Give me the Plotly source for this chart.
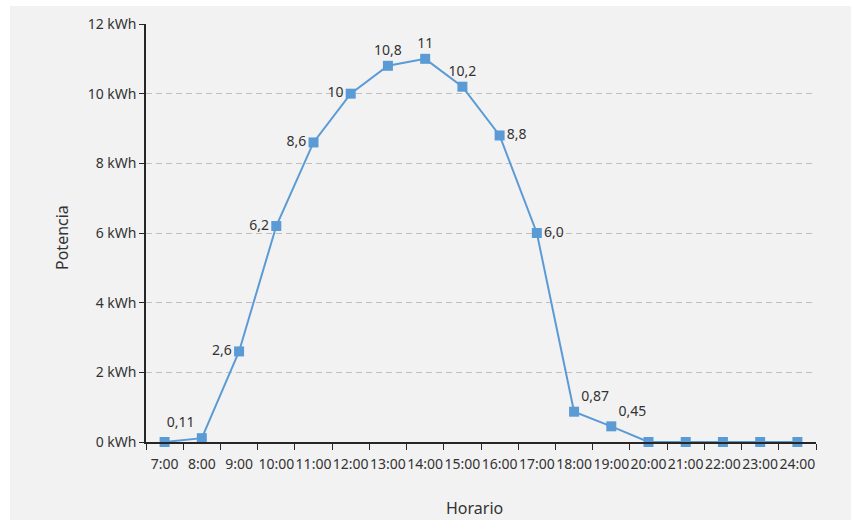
import plotly.graph_objects as go

horas = ["7:00", "8:00", "9:00", "10:00", "11:00", "12:00", "13:00", "14:00", "15:00",
         "16:00", "17:00", "18:00", "19:00", "20:00", "21:00", "22:00", "23:00", "24:00"]
potencia = [0, 0.11, 2.6, 6.2, 8.6, 10, 10.8, 11, 10.2, 8.8, 6.0, 0.87, 0.45, 0, 0, 0, 0, 0]
etiquetas = ["", "0,11", "2,6", "6,2", "8,6", "10", "10,8", "11", "10,2", "8,8", "6,0",
             "0,87", "0,45", "", "", "", "", ""]
posiciones = ["top center", "top left", "middle left", "middle left", "middle left",
              "middle left", "top center", "top center", "top center", "middle right",
              "middle right", "top right", "top right", "top center", "top center",
              "top center", "top center", "top center"]
y_ticks = [0, 2, 4, 6, 8, 10, 12]
y_ticktext = [f"{v} kWh" for v in y_ticks]

FONT = "Noto Sans, Open Sans, sans-serif"
TXT = "#333333"
BLUE = "#5b9bd5"
BG = "#f2f2f2"

fig = go.Figure()
fig.add_trace(go.Scatter(
    x=horas, y=potencia, mode="lines+markers+text",
    line=dict(color=BLUE, width=2),
    marker=dict(symbol="square", size=10, color=BLUE),
    text=etiquetas, textposition=posiciones,
    textfont=dict(family=FONT, size=14, color=TXT),
    cliponaxis=False, showlegend=False, hoverinfo="skip",
))

L, R, T, B = 146, 35, 24, 78
W, H = 851, 520
pw, ph = W - L - R, H - T - B

fig.update_layout(
    width=W, height=H,
    margin=dict(l=L, r=R, t=T, b=B, pad=0, autoexpand=False),
    paper_bgcolor="white", plot_bgcolor=BG,
    font=dict(family=FONT, size=14, color=TXT),
    shapes=[dict(type="rect", xref="paper", yref="paper",
                 x0=(10 - L) / pw, x1=(W - L) / pw + 0.01,
                 y0=-(B + 5) / ph, y1=(ph + T - 6) / ph,
                 fillcolor=BG, line=dict(width=0), layer="below")],
    annotations=[
        dict(text="Horario", xref="paper", yref="paper", x=(474 - L) / pw, y=-(508 - (H - B)) / ph,
             xanchor="center", yanchor="middle", showarrow=False,
             font=dict(family=FONT, size=16, color=TXT)),
        dict(text="Potencia", xref="paper", yref="paper", x=(62 - L) / pw, y=((H - B) - 238) / ph,
             xanchor="center", yanchor="middle", textangle=-90, showarrow=False,
             font=dict(family=FONT, size=16, color=TXT)),
    ],
)
fig.update_xaxes(
    type="category", range=[-0.5, len(horas) - 0.5], tickson="boundaries",
    ticks="outside", ticklen=6, ticklabelstandoff=8,
    tickcolor="#262626", showline=True, linecolor="#262626", linewidth=1.5,
    showgrid=False, tickangle=0, tickfont=dict(size=14), automargin=False,
)
fig.update_yaxes(
    range=[0, 12], tickmode="array", tickvals=y_ticks, ticktext=y_ticktext,
    ticks="outside", ticklen=5,
    tickcolor="#262626", showline=True, linecolor="#262626", linewidth=1.5,
    showgrid=True, gridcolor="#bfbfbf", griddash="6px,4px", gridwidth=1,
    zeroline=False, tickfont=dict(size=14), automargin=False,
)
fig.write_html("out.html", config={"displayModeBar": False},
               post_script="document.body.style.margin='0';document.body.style.overflow='hidden';")
